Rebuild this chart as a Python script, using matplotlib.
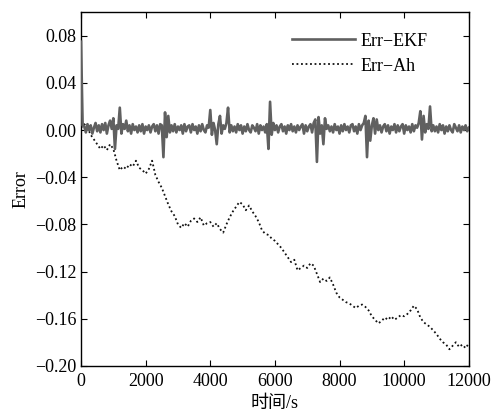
import numpy as np
import matplotlib
matplotlib.use("Agg")
import matplotlib.pyplot as plt

plt.rcParams['font.family'] = ['Liberation Serif', 'Noto Sans CJK SC', 'DejaVu Sans']
plt.rcParams['mathtext.fontset'] = 'stix'

# EKF error, sampled every 50 s from 0 to 12000 s
ekf_step = 50
err_ekf = [
    0.075, 0.004,
    0.003, -0.002, 0.005, 0.000, 0.004, -0.003, 0.002, 0.006, -0.001, 0.004, -0.002, 0.005, 0.000, 0.006, -0.003, 0.004, 0.008, 0.001,
    0.010, -0.016, 0.004, 0.001, 0.019, -0.003, 0.005, 0.001, 0.008,
    -0.001, 0.004, -0.003, 0.005, 0.000, 0.003, -0.002, 0.004, -0.001, 0.005, -0.003, 0.003, 0.000, 0.004, -0.002, 0.003, 0.005, -0.001, 0.004, -0.003, 0.005,
    0.004, -0.023, 0.015, -0.006, 0.012, -0.002,
    0.004, -0.001, 0.005, -0.002, 0.003, 0.000, 0.004, -0.003, 0.005, -0.001, 0.003, 0.004, -0.002, 0.005, 0.000, 0.003, -0.003, 0.004, -0.001, 0.005, 0.000, -0.002, 0.004, 0.002,
    0.017, -0.004, 0.006, 0.000, -0.012, 0.005, 0.012, -0.003, 0.004, 0.001, 0.006, 0.019, -0.002,
    0.004, -0.001, 0.003, -0.002, 0.005, 0.000, 0.004, -0.003, 0.003, -0.001, 0.005, 0.000, -0.002, 0.004, 0.002, -0.001, 0.005, -0.003, 0.004, 0.000, 0.003, -0.002,
    0.005, -0.016, 0.024, -0.004, 0.006, 0.000,
    0.004, -0.002, 0.003, 0.005, -0.001, 0.003, -0.003, 0.004, 0.000, 0.005, -0.001, 0.003, -0.002, 0.004, 0.000, 0.003, 0.005, -0.003, 0.004, -0.001, 0.003, 0.005, -0.002, 0.006,
    0.009, -0.027, 0.011, -0.003, 0.004, -0.012, 0.010, 0.001,
    0.004, -0.001, 0.003, -0.002, 0.005, 0.000, 0.003, -0.003, 0.004, -0.001, 0.005, 0.000, 0.003, -0.002, 0.004, 0.005, -0.001, 0.003, -0.003, 0.005, 0.000, 0.004, 0.006,
    0.012, -0.023, 0.008, -0.009, 0.004, 0.010, -0.003, 0.009, 0.000,
    0.004, -0.002, 0.003, 0.005, -0.001, 0.004, -0.003, 0.003, 0.000, 0.005, -0.002, 0.004, -0.001, 0.003, 0.005, -0.003, 0.004, 0.000, 0.003, -0.002, 0.005, -0.001, 0.004, 0.002,
    0.006, 0.016, -0.008, 0.012, -0.002, 0.005, 0.001, 0.020, -0.001,
    0.004, -0.001, 0.003, -0.002, 0.005, 0.000, 0.004, -0.003, 0.003, -0.001, 0.004, 0.000, -0.002, 0.005, 0.002, -0.001, 0.004, -0.002, 0.003, 0.000, 0.004, -0.001, 0.002,
]

# Ah error, sampled every 100 s from 0 to 12000 s
ah_step = 100
err_ah = [
    0.002, 0.005, 0.002, -0.004, -0.008, -0.012, -0.016, -0.013, -0.017, -0.012,
    -0.016, -0.026, -0.034, -0.031, -0.033, -0.029, -0.031, -0.026, -0.032, -0.034,
    -0.037, -0.033, -0.026, -0.038, -0.044, -0.049, -0.056, -0.063, -0.069, -0.073,
    -0.080, -0.083, -0.079, -0.082, -0.077, -0.075, -0.078, -0.074, -0.081, -0.079,
    -0.078, -0.082, -0.079, -0.084, -0.087, -0.080, -0.074, -0.069, -0.065, -0.061,
    -0.063, -0.068, -0.064, -0.069, -0.073, -0.078, -0.085, -0.088, -0.089, -0.092,
    -0.094, -0.097, -0.100, -0.104, -0.108, -0.112, -0.110, -0.119, -0.117, -0.115,
    -0.117, -0.113, -0.115, -0.122, -0.129, -0.126, -0.128, -0.125, -0.131, -0.138,
    -0.142, -0.144, -0.146, -0.147, -0.149, -0.151, -0.149, -0.148, -0.150, -0.153,
    -0.158, -0.161, -0.164, -0.162, -0.159, -0.161, -0.158, -0.161, -0.159, -0.157,
    -0.158, -0.156, -0.153, -0.149, -0.152, -0.159, -0.163, -0.165, -0.167, -0.170,
    -0.173, -0.177, -0.180, -0.182, -0.186, -0.183, -0.180, -0.184, -0.182, -0.185,
    -0.181,
]

x_ticks = [0, 2000, 4000, 6000, 8000, 10000, 12000]
y_ticks = [-0.20, -0.16, -0.12, -0.08, -0.04, 0.00, 0.04, 0.08]
y_ticklabels = ['\u22120.20', '\u22120.16', '\u22120.12', '\u22120.08', '\u22120.04', '0.00', '0.04', '0.08']

t_ekf = np.arange(len(err_ekf)) * ekf_step
t_ah = np.arange(len(err_ah)) * ah_step

fig = plt.figure(figsize=(4.94, 4.20), dpi=100)
ax = fig.add_axes([0.164, 0.129, 0.785, 0.842])

ax.plot(t_ekf, err_ekf, color='#606060', lw=1.9, label='Err\u2212EKF', zorder=3)
ax.plot(t_ah, err_ah, color='#111111', lw=1.3, ls=(0, (1, 1.5)), label='Err\u2212Ah', zorder=2)

ax.set_xlim(0, 12000)
ax.set_ylim(-0.20, 0.10)
ax.set_xticks(x_ticks)
ax.set_xticklabels([str(v) for v in x_ticks])
ax.set_yticks(y_ticks)
ax.set_yticklabels(y_ticklabels)
ax.tick_params(direction='in', top=True, right=True, length=4.5, width=0.8, labelsize=13)
ax.tick_params(axis='x', pad=5)
for s in ax.spines.values():
    s.set_linewidth(1.0)

ax.set_xlabel('时间/s', fontsize=13, labelpad=4)
ax.set_ylabel('Error', fontsize=13, labelpad=4)

leg = ax.legend(loc='upper left', bbox_to_anchor=(0.544, 0.942), frameon=False, fontsize=13,
                handlelength=3.5, handletextpad=0.3, labelspacing=0.45,
                borderaxespad=0.0, borderpad=0.0)

fig.savefig('out.png', dpi=100)
